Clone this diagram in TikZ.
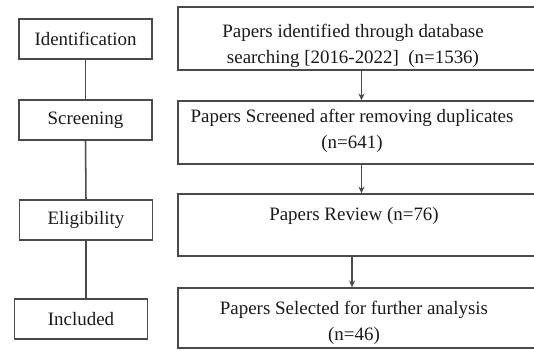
\documentclass[tikz,border=0pt]{standalone}
\usepackage{fontspec}
\setmainfont{Liberation Serif}
\usetikzlibrary{arrows.meta}
\definecolor{linegray}{HTML}{4A4A4A}
\definecolor{textgray}{HTML}{1A1A1A}
\tikzset{
  stagebox/.style={draw=linegray, line width=1.15pt, minimum width=99.75pt, minimum height=30pt, inner sep=0pt, text=textgray, font=\fontsize{14.2}{19.5}\selectfont},
  flowbox/.style={draw=linegray, line width=1.15pt, minimum width=275.25pt, inner sep=0pt},
  flowtext/.style={align=center, inner sep=0pt, text=textgray, font=\fontsize{14.2}{19.5}\selectfont},
  flowarrow/.style={draw=linegray, line width=1pt, -{Stealth[length=5pt, width=4.5pt]}},
  stageline/.style={draw=linegray, line width=1.15pt}
}
\begin{document}
\begin{tikzpicture}[x=0.75pt, y=-0.75pt]
    \useasboundingbox (0,0) rectangle (534,350);
    \clip (0,0) rectangle (534,350);
    \fill[white] (0,0) rectangle (534,350);

    % Stages on the left
    \node[stagebox] (ident) at (85.5,39) {Identification};
    \node[stagebox] (screen) at (85.5,120) {Screening};
    \node[stagebox] (elig) at (86,220) {Eligibility};
    \node[stagebox] (incl) at (81,319) {Included};
    \draw[stageline] (ident.south) -- (screen.north);
    \draw[stageline] (screen.south) -- (elig.north);
    \draw[stageline] (elig.south) -- (elig.south |- incl.north);

    % Boxes on the right (open towards the right edge)
    \node[flowbox, minimum height=47.25pt] (b1) at (361.5,38.5) {};
    \node[flowbox, minimum height=47.25pt] (b2) at (361.5,132.5) {};
    \node[flowbox, minimum height=46.5pt] (b3) at (361.5,225) {};
    \node[flowbox, minimum height=45pt] (b4) at (361.5,318) {};

    \node[flowtext] (pid) at (353,46) {Papers identified through database\\searching [2016-2022]~~(n=1536)};
    \node[flowtext] (pscr) at (352,131) {Papers Screened after removing duplicates\\(n=641)};
    \node[flowtext] (prev) at (354,216) {Papers Review (n=76)};
    \node[flowtext] (psel) at (354,323) {Papers Selected for further analysis\\(n=46)};

    \draw[flowarrow] (b1.south) -- (b2.north);
    \draw[flowarrow] (b2.south) -- (b3.north);
    \draw[flowarrow] ([xshift=-7.1pt]b3.south) -- ([xshift=-7.1pt]b4.north);
\end{tikzpicture}
\end{document}
